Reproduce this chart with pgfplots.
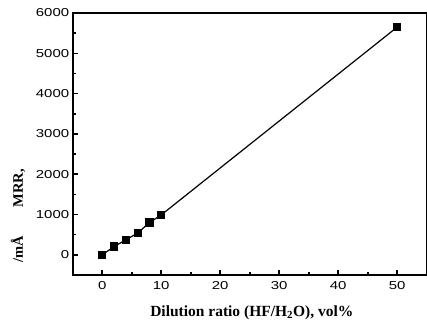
\documentclass[border=0pt]{standalone}
\usepackage{fontspec}
\setmainfont{Liberation Serif}
\newfontfamily\tickfont[FakeStretch=1.3]{Liberation Sans}
\usepackage{pgfplots}
\pgfplotsset{compat=1.18}
\begin{document}
\begin{tikzpicture}
\path[use as bounding box] (0,0) rectangle (427pt,326pt);
\begin{axis}[
  at={(72.7pt,51pt)}, anchor=south west,
  scale only axis, width=354pt, height=262pt,
  xmin=-5, xmax=55, ymin=-500, ymax=6000,
  xtick={0,10,...,50}, ytick={0,1000,...,6000},
  minor x tick num=1, minor y tick num=1,
  tick align=inside, tick pos=left,
  major tick length=5pt, minor tick length=3pt,
  every tick/.style={black, line width=1.6pt},
  axis line style={line width=2pt},
  tick label style={font=\fontsize{11.5}{13}\tickfont},
  /pgf/number format/assume math mode=true,
  scaled y ticks=false,
  yticklabel style={/pgf/number format/1000 sep={}},
  xticklabel style={yshift=-3pt},
  ylabel={\textbf{/mÅ\hspace{2em}MRR,}},
  ylabel style={at={(axis description cs:-0.1545,0.225)}, anchor=center, font=\fontsize{14.5}{16}\selectfont},
  xlabel={\textbf{Dilution ratio (HF/H\textsubscript{2}O), vol\%}},
  xlabel style={at={(axis description cs:0.506,-0.145)}, anchor=center, font=\fontsize{15.5}{17}\selectfont},
]
\addplot[black, line width=1.2pt, mark=square*, mark size=3.5pt, mark options={solid}]
  coordinates {(0,0) (2,205) (4,370) (6,540) (8,800) (10,990) (50,5650)};
\end{axis}
\end{tikzpicture}
\end{document}
